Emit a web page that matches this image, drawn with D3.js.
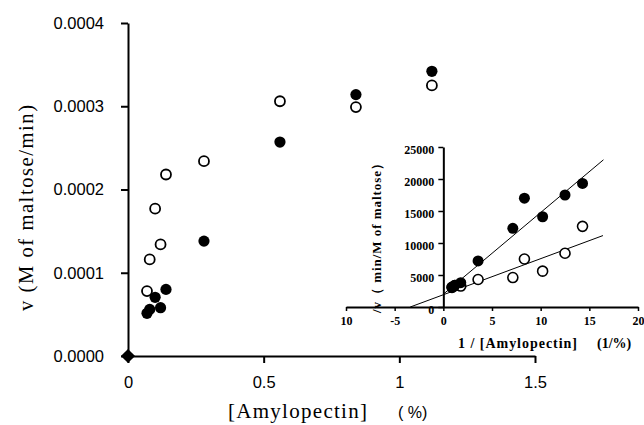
<!DOCTYPE html>
<html>
<head>
<meta charset="utf-8">
<script src="https://cdn.jsdelivr.net/npm/d3@7"></script>
<style>
  body { margin: 0; background: #fff; }
  svg { display: block; }
  .tick text { fill: #000; }
</style>
</head>
<body>
<div id="chart"></div>
<script>
// DATA
////////////////////////////
// main plot: v against [Amylopectin] (%)
var conc = [0.07, 0.08, 0.10, 0.12, 0.14, 0.28, 0.56, 0.84, 1.12];
var vOpen = [0.000078, 0.000116, 0.000177, 0.000134, 0.000218, 0.000234, 0.000306, 0.000299, 0.000325];
var vFilled = [0.0000513, 0.000056, 0.0000705, 0.000058, 0.00008, 0.000138, 0.000257, 0.000314, 0.000342];
var origin = [0, 0];   // filled diamond at 0,0
var xTicks = [0, 0.5, 1, 1.5];
var yTicks = [0, 0.0001, 0.0002, 0.0003, 0.0004];

// inset: Lineweaver-Burk (1/[S] vs 1/v)
var invConc = [0.89, 1.19, 1.79, 3.57, 7.14, 8.33, 10.2, 12.5, 14.3];
var invOpen = [3070, 3340, 3270, 4300, 4600, 7500, 5600, 8400, 12600];
var invFilled = [3100, 3400, 3800, 7200, 12300, 17000, 14100, 17500, 19300];
// fitted lines: [x0, y0, x1, y1]
var fitOpen = [-3.4, 0, 16.4, 11160];
var fitFilled = [0, 2000, 16.45, 23000];
var ixTicks = [-10, -5, 0, 5, 10, 15, 20];
var iyTicks = [0, 5000, 10000, 15000, 20000, 25000];

// SETUP
////////////////////////////
var width = 644, height = 425;
var svg = d3.select("#chart").append("svg")
    .attr("width", width)
    .attr("height", height);

var sans = "'Liberation Sans', Arial, sans-serif";
var serif = "'Liberation Serif', 'Times New Roman', serif";

// MAIN CHART
var x = d3.scaleLinear().domain([0, 1.5]).range([128, 535]);
var y = d3.scaleLinear().domain([0, 0.0004]).range([356, 23]);

var yAxis = svg.append("g")
    .attr("transform", "translate(128,0)")
    .call(d3.axisLeft(y).tickValues(yTicks).tickFormat(d3.format(".4f")).tickSize(7).tickSizeOuter(0).tickPadding(17));
var xAxis = svg.append("g")
    .attr("transform", "translate(0,356)")
    .call(d3.axisBottom(x).tickValues(xTicks).tickFormat(d3.format("")).tickSize(7).tickSizeOuter(0).tickPadding(13));

[yAxis, xAxis].forEach(function(a) {
  a.select(".domain").attr("stroke-width", 2);
  a.selectAll(".tick line").attr("stroke-width", 2);
  a.selectAll("text").style("font-family", sans).style("font-size", "16.5px");
});

// axis titles
svg.append("text")
    .attr("transform", "translate(33,208) rotate(-90)")
    .attr("text-anchor", "middle")
    .attr("textLength", 206)
    .style("font-family", serif).style("font-size", "20.5px")
    .text("v  (M of maltose/min)");

svg.append("text")
    .attr("x", 228).attr("y", 418)
    .attr("textLength", 139)
    .style("font-family", serif).style("font-size", "21px")
    .text("[Amylopectin]");
svg.append("text")
    .attr("x", 398).attr("y", 418)
    .style("font-family", sans).style("font-size", "16px")
    .text("( %)");

// points
svg.append("g").selectAll("circle")
    .data(conc.map(function(c, i) { return [c, vOpen[i]]; }))
    .enter().append("circle")
    .attr("cx", function(d) { return x(d[0]); })
    .attr("cy", function(d) { return y(d[1]); })
    .attr("r", 5)
    .attr("fill", "#fff").attr("stroke", "#000").attr("stroke-width", 1.8);

svg.append("g").selectAll("circle")
    .data(conc.map(function(c, i) { return [c, vFilled[i]]; }))
    .enter().append("circle")
    .attr("cx", function(d) { return x(d[0]); })
    .attr("cy", function(d) { return y(d[1]); })
    .attr("r", 5.6)
    .attr("fill", "#000");

// square turned 45deg = even diamond like the original
svg.append("path")
    .attr("d", d3.symbol().type(d3.symbolSquare).size(100))
    .attr("transform", "translate(" + x(origin[0]) + "," + y(origin[1]) + ") rotate(45)")
    .attr("fill", "#000");

// INSET
////////////////////////////
var ix = d3.scaleLinear().domain([-10, 20]).range([346, 638]);
var iy = d3.scaleLinear().domain([0, 25000]).range([307, 147]);

var iyAxis = svg.append("g")
    .attr("transform", "translate(" + ix(0) + ",0)")
    .call(d3.axisLeft(iy).tickValues(iyTicks).tickSize(5).tickSizeOuter(0).tickPadding(4).tickFormat(d3.format("d")));
var ixAxis = svg.append("g")
    .attr("transform", "translate(0," + iy(0) + ")")
    .call(d3.axisBottom(ix).tickValues(ixTicks).tickSize(4).tickSizeOuter(0).tickPadding(5)
      .tickFormat(function(d) { return d === -10 ? "10" : d; }));   // minus is missing on the original

[iyAxis, ixAxis].forEach(function(a) {
  a.select(".domain").attr("stroke-width", 2);
  a.selectAll(".tick line").attr("stroke-width", 1.5);
  a.selectAll("text").style("font-family", serif).style("font-size", "12px").style("font-weight", "bold");
});
iyAxis.selectAll("text").attr("dy", "0.5em");

// fit lines
var line = d3.line().x(function(d) { return ix(d[0]); }).y(function(d) { return iy(d[1]); });
[fitOpen, fitFilled].forEach(function(f) {
  svg.append("path")
      .attr("d", line([[f[0], f[1]], [f[2], f[3]]]))
      .attr("fill", "none").attr("stroke", "#000").attr("stroke-width", 1);
});

svg.append("g").selectAll("circle")
    .data(invConc.map(function(c, i) { return [c, invOpen[i]]; }))
    .enter().append("circle")
    .attr("cx", function(d) { return ix(d[0]); })
    .attr("cy", function(d) { return iy(d[1]); })
    .attr("r", 5)
    .attr("fill", "#fff").attr("stroke", "#000").attr("stroke-width", 1.6);

svg.append("g").selectAll("circle")
    .data(invConc.map(function(c, i) { return [c, invFilled[i]]; }))
    .enter().append("circle")
    .attr("cx", function(d) { return ix(d[0]); })
    .attr("cy", function(d) { return iy(d[1]); })
    .attr("r", 5.5)
    .attr("fill", "#000");

// inset titles
svg.append("text")
    .attr("transform", "translate(381,235) rotate(-90)")
    .attr("text-anchor", "middle")
    .attr("textLength", 156)
    .style("font-family", serif).style("font-size", "13px").style("font-weight", "bold")
    .text("/v（ min/M of maltose）");

svg.append("text")
    .attr("x", 458).attr("y", 348)
    .attr("textLength", 119)
    .style("font-family", serif).style("font-size", "14px").style("font-weight", "bold")
    .text("1  / [Amylopectin]");
svg.append("text")
    .attr("x", 597).attr("y", 348)
    .style("font-family", serif).style("font-size", "14px").style("font-weight", "bold")
    .text("(1/%)");
</script>
</body>
</html>
